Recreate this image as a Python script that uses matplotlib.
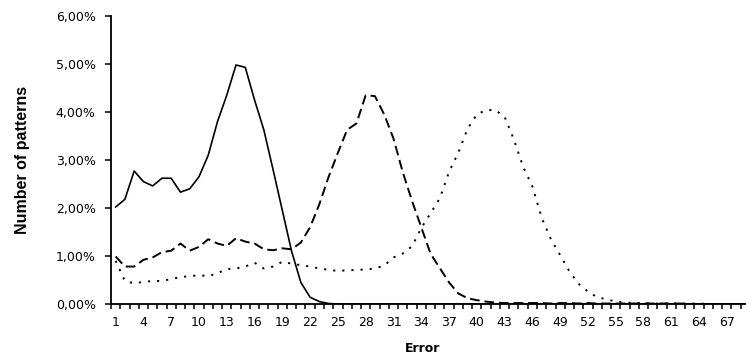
import numpy as np
import matplotlib
matplotlib.use("Agg")
import matplotlib.pyplot as plt
from matplotlib.ticker import FuncFormatter

# error values 1..69
errors = list(range(1, 70))

# percentage of patterns for each error
solid_pct = [2.02, 2.18, 2.77, 2.55, 2.46, 2.62, 2.62, 2.33, 2.40, 2.65,
             3.10, 3.80, 4.35, 4.98, 4.93, 4.25, 3.63, 2.80, 1.95, 1.10,
             0.45, 0.14, 0.05, 0.01, 0.00, 0.00, 0.00, 0.00, 0.00, 0.00,
             0.00, 0.00, 0.00, 0.00, 0.00, 0.00, 0.00, 0.00, 0.00, 0.00,
             0.00, 0.00, 0.00, 0.00, 0.00, 0.00, 0.00, 0.00, 0.00, 0.00,
             0.00, 0.00, 0.00, 0.00, 0.00, 0.00, 0.00, 0.00, 0.00, 0.00,
             0.00, 0.00, 0.00, 0.00, 0.00, 0.00, 0.00, 0.00, 0.00]

dashed_pct = [0.99, 0.78, 0.78, 0.92, 0.97, 1.08, 1.11, 1.26, 1.11, 1.19,
              1.35, 1.26, 1.21, 1.37, 1.30, 1.26, 1.14, 1.12, 1.16, 1.14,
              1.28, 1.60, 2.08, 2.65, 3.15, 3.63, 3.76, 4.35, 4.33, 3.95,
              3.45, 2.75, 2.15, 1.60, 1.05, 0.75, 0.45, 0.22, 0.12, 0.08,
              0.05, 0.03, 0.02, 0.02, 0.02, 0.02, 0.02, 0.01, 0.02, 0.02,
              0.01, 0.02, 0.01, 0.01, 0.01, 0.01, 0.01, 0.01, 0.01, 0.01,
              0.01, 0.01, 0.00, 0.00, 0.00, 0.00, 0.00, 0.00, 0.00]

dotted_pct = [0.90, 0.48, 0.43, 0.46, 0.48, 0.48, 0.52, 0.56, 0.58, 0.60,
              0.58, 0.64, 0.73, 0.74, 0.78, 0.86, 0.74, 0.78, 0.88, 0.84,
              0.81, 0.78, 0.74, 0.71, 0.69, 0.70, 0.71, 0.72, 0.74, 0.80,
              0.97, 1.05, 1.20, 1.58, 1.89, 2.20, 2.75, 3.15, 3.65, 3.95,
              4.04, 4.04, 3.90, 3.43, 2.86, 2.45, 1.80, 1.35, 1.02, 0.68,
              0.42, 0.26, 0.14, 0.10, 0.05, 0.03, 0.02, 0.02, 0.01, 0.01,
              0.01, 0.01, 0.01, 0.01, 0.00, 0.00, 0.00, 0.00, 0.00]

tick_labels = [str(e) for e in errors[::3]]

fig = plt.figure(figsize=(7.46, 3.58), dpi=100)
# axes runs a little past the right edge, like the original
ax = fig.add_axes([111 / 746, 54 / 358, 639 / 746, 288 / 358])

ax.plot(errors, solid_pct, color="black", lw=1.2, linestyle="-")
ax.plot(errors, dashed_pct, color="black", lw=1.4, linestyle=(0, (5, 2.5)))
ax.plot(errors, dotted_pct, color="black", lw=1.4, linestyle=(0, (1.1, 3.6)))

ax.set_xlim(0.5, 69.5)
ax.set_ylim(0, 6)

ax.spines["top"].set_visible(False)
ax.spines["right"].set_visible(False)
ax.spines["left"].set_linewidth(1.3)
ax.spines["bottom"].set_linewidth(1.3)

ax.set_xticks(errors[::3])
ax.set_xticklabels(tick_labels)
ax.set_xticks(np.arange(0.5, 70, 1), minor=True)
ax.tick_params(axis="x", which="major", length=0, pad=9, labelsize=9)
ax.tick_params(axis="x", which="minor", length=3.5, width=1.1, direction="out")

ax.set_yticks(range(0, 7))
ax.yaxis.set_major_formatter(FuncFormatter(lambda v, p: f"{v:.2f}%".replace(".", ",")))
ax.tick_params(axis="y", length=4, width=1.1, labelsize=9, pad=7)

for lab in ax.get_xticklabels() + ax.get_yticklabels():
    lab.set_family("DejaVu Sans")

ax.set_xlabel("Error", fontsize=9, fontweight="bold")
ax.xaxis.set_label_coords((423 - 111) / 639, -38 / 288)
ax.set_ylabel("Number of patterns", fontsize=11.5, fontweight="bold",
              family=["Liberation Sans", "DejaVu Sans"])
ax.yaxis.set_label_coords(-81 / 639, 0.5)

fig.savefig("out.png", dpi=100)
